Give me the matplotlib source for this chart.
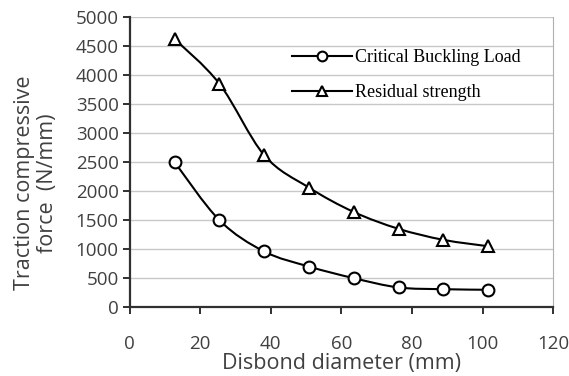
import numpy as np
import matplotlib.pyplot as plt
from matplotlib.path import Path
from matplotlib.patches import PathPatch

# disbond diameters (mm), half-inch steps
diameter = [12.7, 25.4, 38.1, 50.8, 63.5, 76.2, 88.9, 101.6]
critical_load = [2500, 1500, 960, 700, 500, 340, 310, 300]
residual_strength = [4620, 3850, 2620, 2060, 1640, 1350, 1160, 1050]


def smooth_path(x, y, k=1/6):
    # excel-like smoothed line: cubic bezier through points
    x = np.asarray(x, float)
    y = np.asarray(y, float)
    verts = [(x[0], y[0])]
    codes = [Path.MOVETO]
    n = len(x)
    for i in range(n - 1):
        i0 = max(i - 1, 0)
        i3 = min(i + 2, n - 1)
        c1 = (x[i] + (x[i + 1] - x[i0]) * k, y[i] + (y[i + 1] - y[i0]) * k)
        c2 = (x[i + 1] - (x[i3] - x[i]) * k, y[i + 1] - (y[i3] - y[i]) * k)
        verts += [c1, c2, (x[i + 1], y[i + 1])]
        codes += [Path.CURVE4] * 3
    return Path(verts, codes)


plt.rcParams['font.family'] = ['Open Sans', 'DejaVu Sans']
txt = '#404040'

fig = plt.figure(figsize=(5.69, 3.76), dpi=100)
ax = fig.add_axes([0.228, 0.183, 0.744, 0.772])

for ys, mk, lab in [(critical_load, 'o', 'Critical Buckling Load'),
                    (residual_strength, '^', 'Residual strength')]:
    ax.add_patch(PathPatch(smooth_path(diameter, ys), fill=False, lw=1.5,
                           ec='black', zorder=3))
    ax.plot(diameter, ys, ls='none', marker=mk, ms=8.5, mfc='white',
            mec='black', mew=1.5, zorder=4)
    ax.plot([], [], color='black', lw=1.5, marker=mk, ms=7, mfc='white',
            mec='black', mew=1.5, label=lab)

ax.set_xlim(0, 120)
ax.set_ylim(0, 5000)
ax.set_xticks(np.arange(0, 121, 20))
ax.set_yticks(np.arange(0, 5001, 500))
ax.yaxis.grid(True, color='#c8c8c8', lw=1)
ax.set_axisbelow(True)

for s in ['left', 'bottom']:
    ax.spines[s].set_linewidth(1.6)
    ax.spines[s].set_color('#303030')
ax.spines['top'].set_visible(False)
ax.spines['right'].set_color('#b0b0b0')
ax.tick_params(axis='both', labelsize=13.5, labelcolor=txt, color='#303030',
               width=1.4, length=5)
ax.tick_params(axis='x', pad=15)
ax.tick_params(axis='y', pad=3)

ax.set_xlabel('Disbond diameter (mm)', fontsize=15.5, color=txt)
ax.xaxis.set_label_coords(0.5, -0.158)
ax.set_ylabel('Traction compressive\nforce  (N/mm)', fontsize=15.5, color=txt,
              linespacing=1.1)
ax.yaxis.set_label_coords(-0.17, 0.428)

leg = ax.legend(loc='upper left', bbox_to_anchor=(0.345, 0.945), frameon=False,
                prop={'family': 'Liberation Serif', 'size': 13},
                handlelength=3.3, labelspacing=1.0, handletextpad=0.2)

fig.savefig('out.png', dpi=100)
